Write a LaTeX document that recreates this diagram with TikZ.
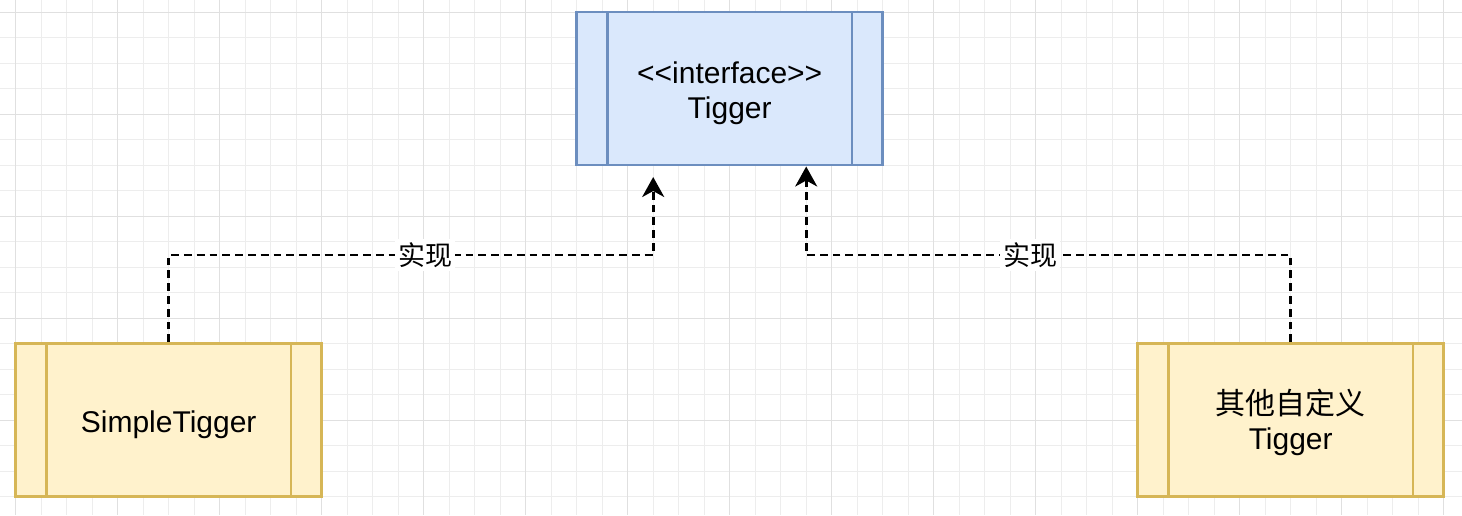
\documentclass[tikz,border=0pt]{standalone}
\usepackage{fontspec}
\setmainfont{Liberation Sans}
\newfontfamily\cjk{Noto Sans CJK SC}
\usetikzlibrary{arrows.meta,calc}
\definecolor{blueFill}{HTML}{DAE8FC}
\definecolor{blueLine}{HTML}{6C8EBF}
\definecolor{yelFill}{HTML}{FFF2CC}
\definecolor{yelLine}{HTML}{D6B656}
\newcommand{\boxtext}[1]{\raisebox{-2.5pt}[\height][\depth]{\begin{tabular}{@{}c@{}}#1\end{tabular}}}
\tikzset{
  minorgrid/.style={draw=black!7, line width=0.5pt},
  majorgrid/.style={draw=black!12, line width=0.5pt},
  procbox/.style={rectangle, minimum width=153pt, minimum height=76.5pt, inner sep=0pt,
    line width=1.3pt, font=\fontsize{15}{17.5}\selectfont},
  bluebox/.style={procbox, fill=blueFill, draw=blueLine,
    path picture={
      \draw[blueLine, line width=1.3pt]
        ($(path picture bounding box.north west)!0.1!(path picture bounding box.north east)$) --
        ($(path picture bounding box.south west)!0.1!(path picture bounding box.south east)$);
      \draw[blueLine, line width=1.3pt]
        ($(path picture bounding box.north west)!0.9!(path picture bounding box.north east)$) --
        ($(path picture bounding box.south west)!0.9!(path picture bounding box.south east)$);
    }},
  yelbox/.style={procbox, fill=yelFill, draw=yelLine,
    path picture={
      \draw[yelLine, line width=1.3pt]
        ($(path picture bounding box.north west)!0.1!(path picture bounding box.north east)$) --
        ($(path picture bounding box.south west)!0.1!(path picture bounding box.south east)$);
      \draw[yelLine, line width=1.3pt]
        ($(path picture bounding box.north west)!0.9!(path picture bounding box.north east)$) --
        ($(path picture bounding box.south west)!0.9!(path picture bounding box.south east)$);
    }},
  conn/.style={draw=black, line width=1.45pt, dash pattern=on 3.9pt off 2.5pt,
    -{Stealth[length=10pt, width=11pt, inset=3pt]}},
  lbl/.style={fill=white, inner sep=1.5pt, font=\fontsize{13.5}{16}\selectfont\cjk}
}
\begin{document}
\begin{tikzpicture}[x=0.5pt, y=-0.5pt]
\useasboundingbox (0,0) rectangle (1462,515);
\fill[white] (0,0) rectangle (1462,515);
% grid
\foreach \k in {0,...,56} \draw[minorgrid] ({15.7+25.5*\k},0) -- ({15.7+25.5*\k},515);
\foreach \k in {0,...,19} \draw[minorgrid] (0,{12+25.5*\k}) -- (1462,{12+25.5*\k});
\foreach \k in {0,4,...,56} \draw[majorgrid] ({15.7+25.5*\k},0) -- ({15.7+25.5*\k},515);
\foreach \k in {0,4,...,16} \draw[majorgrid] (0,{12+25.5*\k}) -- (1462,{12+25.5*\k});

% boxes
\node[bluebox] (iface) at (729.7,88.5) {\boxtext{<{}<interface>{}>\\Tigger}};
\node[yelbox] (simple) at (168.7,420) {\boxtext{SimpleTigger}};
\node[yelbox] (custom) at (1290.7,420) {\boxtext{{\cjk 其他自定义}\\Tigger}};

% connectors
\coordinate (lbend) at (653.2,255);
\coordinate (lt) at (653.2,177);
\coordinate (rbend) at (806.2,255);
\coordinate (rt) at (806.2,166.5);
\draw[conn] (simple.north) |- node[lbl, pos=0.765] {实现} (lbend) -- (lt);
\draw[conn] (custom.north) |- node[lbl, pos=0.769] {实现} (rbend) -- (rt);
\end{tikzpicture}
\end{document}
